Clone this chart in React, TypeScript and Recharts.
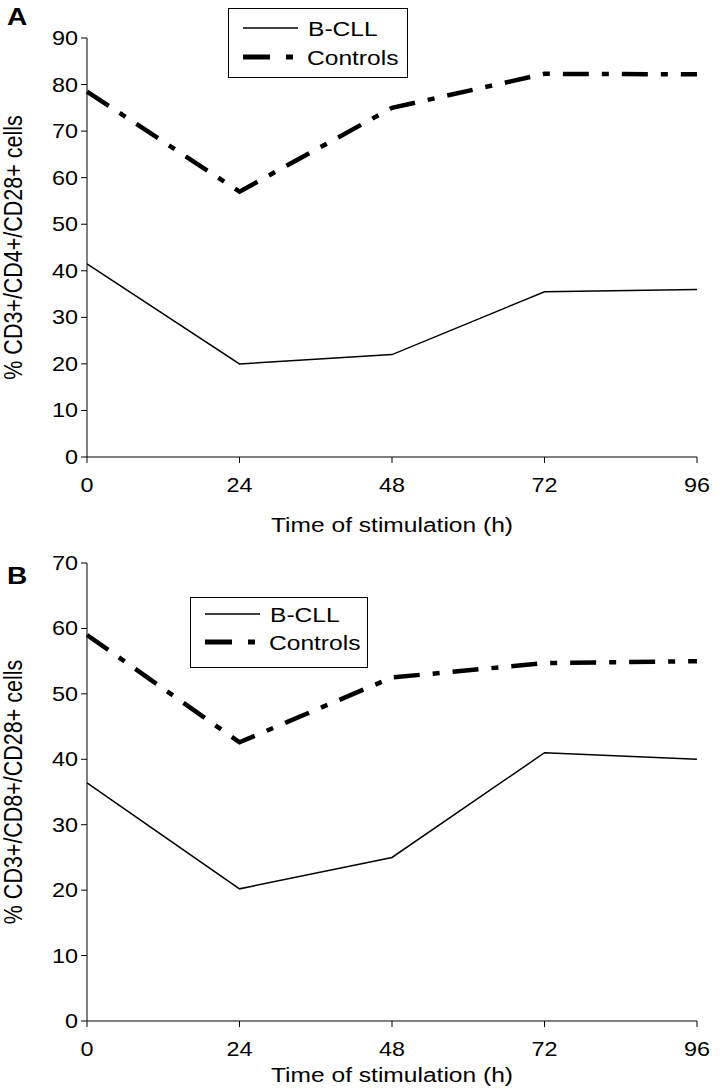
import React from 'react';
import { LineChart, Line, XAxis, YAxis, Label } from 'recharts';

const hours = [0, 24, 48, 72, 96];
const cd4Bcll = [41.5, 20, 22, 35.5, 36];
const cd4Controls = [78.5, 57, 75, 82.3, 82.2];
const cd8Bcll = [36.4, 20.2, 25, 41, 40];
const cd8Controls = [59, 42.6, 52.5, 54.7, 55];
const xTicks = [0, 24, 48, 72, 96];
const yTicksA = [0, 10, 20, 30, 40, 50, 60, 70, 80, 90];
const yTicksB = [0, 10, 20, 30, 40, 50, 60, 70];
const seriesNames = ['B-CLL', 'Controls'];

const dataA = hours.map((h, i) => ({ h, bcll: cd4Bcll[i], ctrl: cd4Controls[i] }));
const dataB = hours.map((h, i) => ({ h, bcll: cd8Bcll[i], ctrl: cd8Controls[i] }));

const FONT = '"Liberation Sans", Arial, Helvetica, sans-serif';
const SX = 1.17;
const DASH = '26 13 7 13';

const XTick = (props: any) => {
  const { x, y, payload } = props;
  return (
    <g transform={`translate(${x},${y})`}>
      <text transform={`scale(${SX},1)`} textAnchor="middle" dy={27} fontSize={20} fontFamily={FONT} fill="#000">
        {payload.value}
      </text>
    </g>
  );
};

const YTick = (props: any) => {
  const { x, y, payload } = props;
  return (
    <g transform={`translate(${x - 1},${y})`}>
      <text transform={`scale(${SX},1)`} textAnchor="end" dy={7} fontSize={20} fontFamily={FONT} fill="#000">
        {payload.value}
      </text>
    </g>
  );
};

const xTitle = (offset: number) => (props: any) => {
  const vb = props.viewBox || {};
  const cx = vb.x + vb.width / 2;
  const y = vb.y + offset;
  return (
    <g transform={`translate(${cx},${y})`}>
      <text transform={`scale(${SX},1)`} textAnchor="middle" fontSize={21} fontFamily={FONT} fill="#000">
        Time of stimulation (h)
      </text>
    </g>
  );
};

const yTitle = (text: string) => (props: any) => {
  const vb = props.viewBox || {};
  const cy = vb.y + vb.height / 2;
  return (
    <g transform={`translate(22,${cy}) rotate(-90) scale(1,${SX})`}>
      <text textAnchor="middle" fontSize={21.5} fontFamily={FONT} fill="#000">
        {text}
      </text>
    </g>
  );
};

const LegendBox = ({ left, top, w, h, r1, r2 }: any) => (
  <svg width={w + 1} height={h + 1} style={{ position: 'absolute', left, top, display: 'block' }}>
    <rect x={0.5} y={0.5} width={w - 1} height={h - 1} fill="#fff" stroke="#000" strokeWidth={1} />
    <line x1={15} x2={70} y1={r1} y2={r1} stroke="#000" strokeWidth={1.5} />
    <g transform={`translate(80,${r1 + 8}) scale(${SX},1)`}>
      <text fontSize={21} fontFamily={FONT} fill="#000">{seriesNames[0]}</text>
    </g>
    <line x1={15} x2={42} y1={r2} y2={r2} stroke="#000" strokeWidth={5} />
    <line x1={58} x2={65} y1={r2} y2={r2} stroke="#000" strokeWidth={5} />
    <g transform={`translate(79,${r2 + 8}) scale(${SX},1)`}>
      <text fontSize={21} fontFamily={FONT} fill="#000">{seriesNames[1]}</text>
    </g>
  </svg>
);

export default function App() {
  return (
    <div style={{ position: 'relative', width: 725, height: 1091, background: '#fff', fontFamily: FONT }}>
      <style>{'body{margin:0;background:#fff}'}</style>
      <div style={{ position: 'absolute', left: 0, top: 0 }}>
        <LineChart width={725} height={545} data={dataA} margin={{ top: 38, right: 28, bottom: 0, left: 0 }}>
          <XAxis
            dataKey="h"
            type="number"
            domain={[0, 96]}
            ticks={xTicks}
            height={88}
            tick={<XTick />}
            tickSize={6}
            stroke="#000"
          >
            <Label content={xTitle(75)} />
          </XAxis>
          <YAxis
            type="number"
            domain={[0, 90]}
            ticks={yTicksA}
            width={87}
            tick={<YTick />}
            tickSize={6}
            stroke="#000"
            interval={0}
          >
            <Label content={yTitle('% CD3+/CD4+/CD28+ cells')} />
          </YAxis>
          <Line dataKey="bcll" name="B-CLL" stroke="#000" strokeWidth={1.5} dot={false} isAnimationActive={false} />
          <Line dataKey="ctrl" name="Controls" stroke="#000" strokeWidth={4.5} strokeDasharray={DASH} dot={false} isAnimationActive={false} />
        </LineChart>
      </div>
      <LegendBox left={228} top={8} w={180} h={70} r1={20} r2={49} />
      <div style={{ position: 'absolute', left: 0, top: 545 }}>
        <LineChart width={725} height={546} data={dataB} margin={{ top: 18, right: 28, bottom: 0, left: 0 }}>
          <XAxis
            dataKey="h"
            type="number"
            domain={[0, 96]}
            ticks={xTicks}
            height={70}
            tick={<XTick />}
            tickSize={6}
            stroke="#000"
          >
            <Label content={xTitle(61)} />
          </XAxis>
          <YAxis
            type="number"
            domain={[0, 70]}
            ticks={yTicksB}
            width={87}
            tick={<YTick />}
            tickSize={6}
            stroke="#000"
            interval={0}
          >
            <Label content={yTitle('% CD3+/CD8+/CD28+ cells')} />
          </YAxis>
          <Line dataKey="bcll" name="B-CLL" stroke="#000" strokeWidth={1.5} dot={false} isAnimationActive={false} />
          <Line dataKey="ctrl" name="Controls" stroke="#000" strokeWidth={4.5} strokeDasharray={DASH} dot={false} isAnimationActive={false} />
        </LineChart>
      </div>
      <LegendBox left={190} top={597} w={178} h={71} r1={17} r2={45} />
      <svg width={725} height={1091} style={{ position: 'absolute', left: 0, top: 0, pointerEvents: 'none' }}>
        <g transform="translate(7,25) scale(1.17,1)">
          <text fontSize={24} fontWeight="bold" fontFamily={FONT} fill="#000">A</text>
        </g>
        <g transform="translate(7,584) scale(1.17,1)">
          <text fontSize={24} fontWeight="bold" fontFamily={FONT} fill="#000">B</text>
        </g>
      </svg>
    </div>
  );
}
